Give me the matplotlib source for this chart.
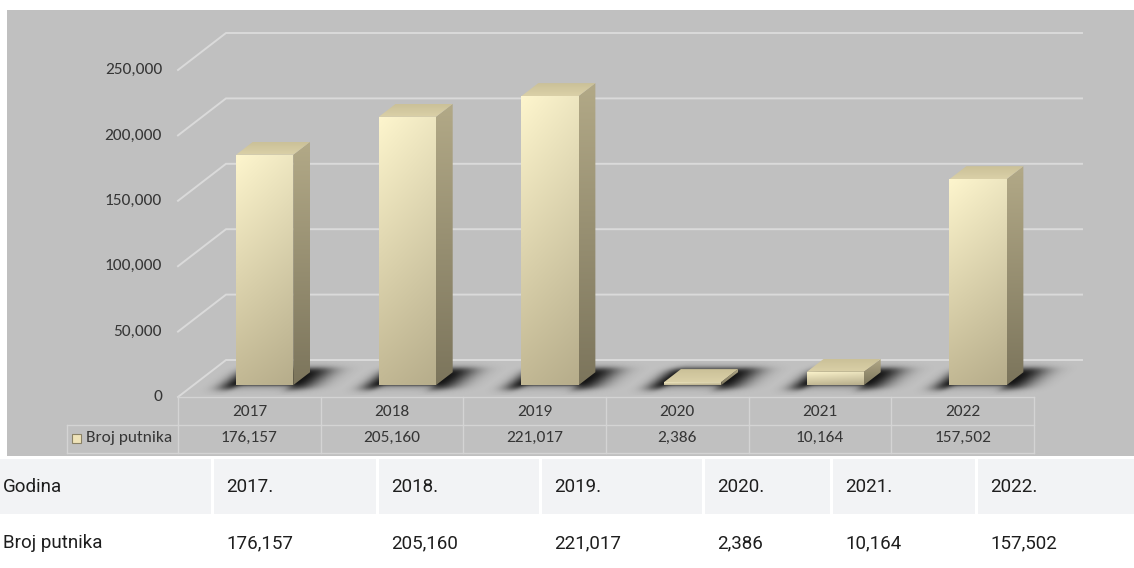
import numpy as np
import matplotlib
matplotlib.use('Agg')
import matplotlib.pyplot as plt
from matplotlib import font_manager
from matplotlib.patches import Polygon, Rectangle

years = ['2017', '2018', '2019', '2020', '2021', '2022']
passengers = [176157, 205160, 221017, 2386, 10164, 157502]
y_ticks = [0, 50000, 100000, 150000, 200000, 250000]
series_name = 'Broj putnika'
row_header = 'Godina'
year_labels = ['2017.', '2018.', '2019.', '2020.', '2021.', '2022.']

installed = {f.name for f in font_manager.fontManager.ttflist}


def pick(*names):
    for n in names:
        if n in installed:
            return n
    return 'DejaVu Sans'


chart_font = pick('Carlito', 'Lato', 'DejaVu Sans')
table_font = pick('Roboto', 'DejaVu Sans')

W, H = 1134, 568
fig = plt.figure(figsize=(W / 100, H / 100), dpi=100, facecolor='white')

# grey chart panel
fig.add_artist(Rectangle((7 / W, 1 - 456 / H), (W - 7) / W, (456 - 10) / H,
                         transform=fig.transFigure, facecolor='#c0c0c0',
                         edgecolor='none', zorder=-1))

# oblique 3d projection: x in categories, y in passengers, d = depth 0..1
cat_px = 856 / 6
val_px = 327 / 250000
floor_x0, floor_y0 = 178, 397
ddx = 48 / cat_px
ddy = 37 / val_px
n = len(years)

ax = fig.add_axes([0, 0, 1, 1])
ax.set_axis_off()
ax.patch.set_visible(False)


def pt(x, d, v):
    return (x + d * ddx, v + d * ddy)


grid_c = '#dadada'
txt_c = '#363636'
fs = 12.5

# back wall + left wall gridlines and value labels
for v in y_ticks:
    a, b = pt(-0.5, 0, v), pt(-0.5, 1, v)
    c = pt(n - 0.5, 1, v)
    ax.plot([a[0], b[0], c[0]], [a[1], b[1], c[1]], color=grid_c, lw=1.4,
            zorder=1, solid_joinstyle='miter')
    ax.text(-0.5 - 16 / cat_px, v, f'{v:,}', ha='right', va='center',
            fontsize=fs, color=txt_c, family=chart_font)

# data table under the floor
line_c = '#d4d4d4'
r1 = -28 / val_px
r2 = -56 / val_px
leg_x = -0.5 - (floor_x0 - 67) / cat_px
ax.plot([-0.5, n - 0.5], [0, 0], color=line_c, lw=1, zorder=1)
ax.plot([leg_x, n - 0.5], [r1, r1], color=line_c, lw=1, zorder=1)
ax.plot([leg_x, n - 0.5], [r2, r2], color=line_c, lw=1, zorder=1)
ax.plot([leg_x, leg_x], [r1, r2], color=line_c, lw=1, zorder=1)
for k in range(n + 1):
    ax.plot([k - 0.5, k - 0.5], [0, r2], color=line_c, lw=1, zorder=1)
for i, (yr, v) in enumerate(zip(years, passengers)):
    ax.text(i, -15 / val_px, yr, ha='center', va='center', fontsize=fs,
            color=txt_c, family=chart_font)
    ax.text(i, -41 / val_px, f'{v:,}', ha='center', va='center', fontsize=fs,
            color=txt_c, family=chart_font)

key_x = -0.5 - (floor_x0 - 72) / cat_px
ax.add_patch(Rectangle((key_x, -46 / val_px), 9 / cat_px, 9 / val_px,
                       facecolor='#efe3b8', edgecolor='#8a8266', lw=0.8,
                       zorder=3))
ax.text(-0.5 - (floor_x0 - 86) / cat_px, -41 / val_px, series_name,
        ha='left', va='center', fontsize=fs, color=txt_c, family=chart_font)


def shade(pts, top, bottom, zorder, side=0.0):
    poly = Polygon(pts, closed=True, transform=ax.transData)
    xs = [p[0] for p in pts]
    ys = [p[1] for p in pts]
    top = np.array(top, float)
    bottom = np.array(bottom, float)
    t = np.linspace(0, 1, 64)[:, None, None]
    h = np.linspace(0, 1, 16)[None, :, None]
    col = (bottom + (top - bottom) * t) * (1 - side * h)
    im = ax.imshow(np.clip(col / 255, 0, 1),
                   extent=(min(xs), max(xs), min(ys), max(ys)),
                   origin='lower', aspect='auto', interpolation='bilinear',
                   zorder=zorder)
    im.set_clip_path(poly)


hw = 0.2
d0, d1 = 0.32, 0.67


def soft(x, lo, hi, s):
    return 1 / (1 + np.exp(-(x - lo) / s)) / (1 + np.exp((x - hi) / s))


for i, v in enumerate(passengers):
    # blurred floor shadow, lighter straight in front of the column
    xs = np.linspace(i - 0.7, i + 1.0, 280)
    ys = np.linspace(0.05 * ddy, 0.95 * ddy, 100)
    X, Y = np.meshgrid(xs, ys)
    d = Y / ddy
    u = X - d * ddx - i
    fade = np.exp(-np.clip(-hw - u, 0, None) ** 2 / 0.11 ** 2
                  - np.clip(u - hw, 0, None) ** 2 / 0.17 ** 2)
    alpha = 0.9 * fade * soft(u, -0.4, 0.55, 0.04) * soft(d, 0.2, 0.76, 0.045)
    front = soft(u, -hw + 0.02, hw, 0.02) / (1 + np.exp((d - d0 + 0.02) / 0.02))
    alpha *= 1 - 0.8 * front
    rgba = np.zeros(X.shape + (4,))
    rgba[..., 3] = alpha
    ax.imshow(rgba, extent=(xs[0], xs[-1], ys[0], ys[-1]), origin='lower',
              aspect='auto', interpolation='bilinear', zorder=2)

    # column faces
    fl, fr = pt(i - hw, d0, 0), pt(i + hw, d0, 0)
    tl, tr = pt(i - hw, d0, v), pt(i + hw, d0, v)
    br_b, br_t = pt(i + hw, d1, 0), pt(i + hw, d1, v)
    bl_t = pt(i - hw, d1, v)
    shade([fr, br_b, br_t, tr], (178, 169, 135), (124, 117, 92), 3)
    shade([tl, tr, br_t, bl_t], (203, 193, 152), (218, 208, 168), 3)
    shade([fl, fr, tr, tl], (253, 245, 205), (194, 184, 148), 4, side=0.06)

ax.set_xlim(-0.5 - floor_x0 / cat_px, -0.5 + (W - floor_x0) / cat_px)
ax.set_ylim(-(H - floor_y0) / val_px, floor_y0 / val_px)

# html style table below the chart
tab = fig.add_axes([0, 0, 1, 1], zorder=2)
tab.set_xlim(0, W)
tab.set_ylim(H, 0)
tab.set_axis_off()
tab.patch.set_visible(False)
col_edges = [-11, 212, 377, 540, 703, 831, 976, W + 2]
head_top, head_bot = 459, 514
val_y = 543
headers = [row_header] + year_labels
values = [series_name] + [f'{v:,}' for v in passengers]
for k in range(len(headers)):
    x0, x1 = col_edges[k], col_edges[k + 1]
    tab.add_patch(Rectangle((x0 + 1.5, head_top), x1 - x0 - 3,
                            head_bot - head_top, facecolor='#f2f3f5',
                            edgecolor='none'))
    tab.text(x0 + 14, (head_top + head_bot) / 2 + 1, headers[k], ha='left',
             va='center', fontsize=13.5, color='#1e1e1e', family=table_font)
    tab.text(x0 + 14, val_y, values[k], ha='left', va='center',
             fontsize=13.5, color='#1e1e1e', family=table_font)

fig.savefig('out.png', dpi=100, facecolor='white')
